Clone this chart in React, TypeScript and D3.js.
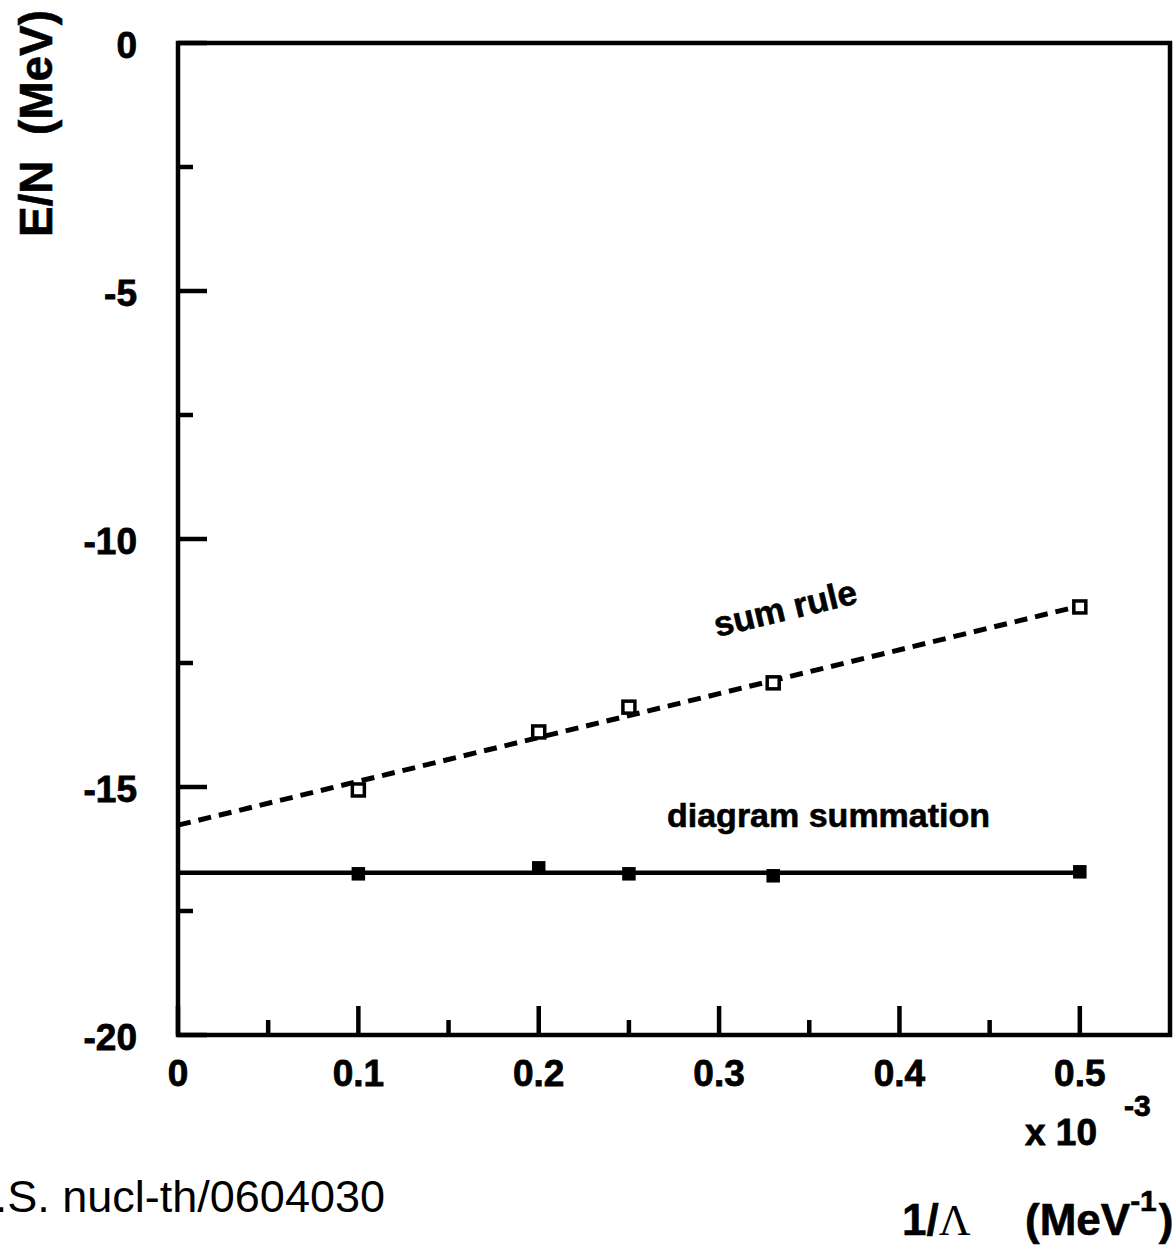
import * as d3 from 'd3';

// 1/Lambda in units of 1e-3 MeV^-1
const invLambda = [0.1, 0.2, 0.25, 0.33, 0.5];
const sumRule = [-15.06, -13.89, -13.39, -12.9, -11.37];
const diagramSum = [-16.75, -16.63, -16.75, -16.79, -16.71];

// straight-line fits drawn through each series
const fitX = [0, 0.5];
const sumRuleFit = [-15.77, -11.35];
const diagramFit = [-16.73, -16.73];

const yMajor = [0, -5, -10, -15, -20];
const yMinor = [-2.5, -7.5, -12.5, -17.5];
const xMajor = [0, 0.1, 0.2, 0.3, 0.4, 0.5];
const xMinor = [0.05, 0.15, 0.25, 0.35, 0.45];
const xLabels = ['0', '0.1', '0.2', '0.3', '0.4', '0.5'];

const width = 1173;
const height = 1246;
const left = 178;
const right = 1170;
const top = 43;
const bottom = 1035;

const font = 'Liberation Sans, Arial, Helvetica, sans-serif';

export default function App() {
  const x = d3.scaleLinear([0, 0.55], [left, right]);
  const y = d3.scaleLinear([-20, 0], [bottom, top]);
  const line = d3
    .line<number>()
    .x((d, i) => x(fitX[i]))
    .y((d) => y(d));

  const sw = 4.5;

  return (
    <svg
      width={width}
      height={height}
      style={{ position: 'absolute', left: 0, top: 0, background: '#fff' }}
      fontFamily={font}
    >
      <rect x={0} y={0} width={width} height={height} fill="#fff" />

      {/* frame */}
      <rect x={left} y={top} width={right - left} height={bottom - top} fill="none" stroke="#000" strokeWidth={sw} />

      {/* ticks */}
      <g stroke="#000" strokeWidth={sw}>
        {yMajor.map((v) => (
          <line key={'ym' + v} x1={left} x2={left + 29} y1={y(v)} y2={y(v)} />
        ))}
        {yMinor.map((v) => (
          <line key={'yn' + v} x1={left} x2={left + 15} y1={y(v)} y2={y(v)} />
        ))}
        {xMajor.map((v) => (
          <line key={'xm' + v} x1={x(v)} x2={x(v)} y1={bottom} y2={bottom - 29} />
        ))}
        {xMinor.map((v) => (
          <line key={'xn' + v} x1={x(v)} x2={x(v)} y1={bottom} y2={bottom - 15} />
        ))}
      </g>

      {/* tick labels */}
      <g fontWeight="bold" fontSize={37} fill="#000" stroke="#000" strokeWidth={0.8}>
        {yMajor.map((v) => (
          <text key={'yl' + v} x={137} y={y(v) + 15} textAnchor="end">
            {String(v)}
          </text>
        ))}
        {xMajor.map((v, i) => (
          <text key={'xl' + v} x={x(v)} y={1086} textAnchor="middle">
            {xLabels[i]}
          </text>
        ))}
        <text x={1025} y={1145}>x 10</text>
        <text x={1124} y={1116} fontSize={30}>-3</text>
      </g>

      {/* lines */}
      <path d={line(sumRuleFit) ?? ''} fill="none" stroke="#000" strokeWidth={5} strokeDasharray="13,8" />
      <path d={line(diagramFit) ?? ''} fill="none" stroke="#000" strokeWidth={4.5} />

      {/* markers */}
      <g fill="#fff" stroke="#000" strokeWidth={3.5}>
        {invLambda.map((v, i) => (
          <rect key={'sr' + i} x={x(v) - 6} y={y(sumRule[i]) - 6} width={12} height={12} />
        ))}
      </g>
      <g fill="#000">
        {invLambda.map((v, i) => (
          <rect key={'ds' + i} x={x(v) - 6.75} y={y(diagramSum[i]) - 6.75} width={13.5} height={13.5} />
        ))}
      </g>

      {/* annotations */}
      <g fontWeight="bold" stroke="#000" strokeWidth={0.6}>
        <text x={717} y={637} fontSize={35} transform="rotate(-13.5 717 637)">
          sum rule
        </text>
        <text x={667} y={827} fontSize={34}>
          diagram summation
        </text>

        {/* y axis title */}
        <text
          transform="translate(52,237) rotate(-90)"
          fontSize={47}
          textLength={227}
          lengthAdjust="spacingAndGlyphs"
          style={{ whiteSpace: 'pre' }}
        >
          {'E/N  (MeV)'}
        </text>

        {/* x axis title */}
        <text x={902} y={1235} fontSize={44}>
          1/
          <tspan fontFamily="Liberation Serif, Times New Roman, serif" fontWeight="normal" strokeWidth={0}>
            Λ
          </tspan>
        </text>
        <text x={1025} y={1235} fontSize={44}>
          (MeV
          <tspan fontSize={30} dy={-24}>-1</tspan>
          <tspan dy={24} dx={2}>)</tspan>
        </text>
      </g>

      {/* source note */}
      <text x={385} y={1212} fontSize={45} textAnchor="end">
        F.S. nucl-th/0604030
      </text>
    </svg>
  );
}
